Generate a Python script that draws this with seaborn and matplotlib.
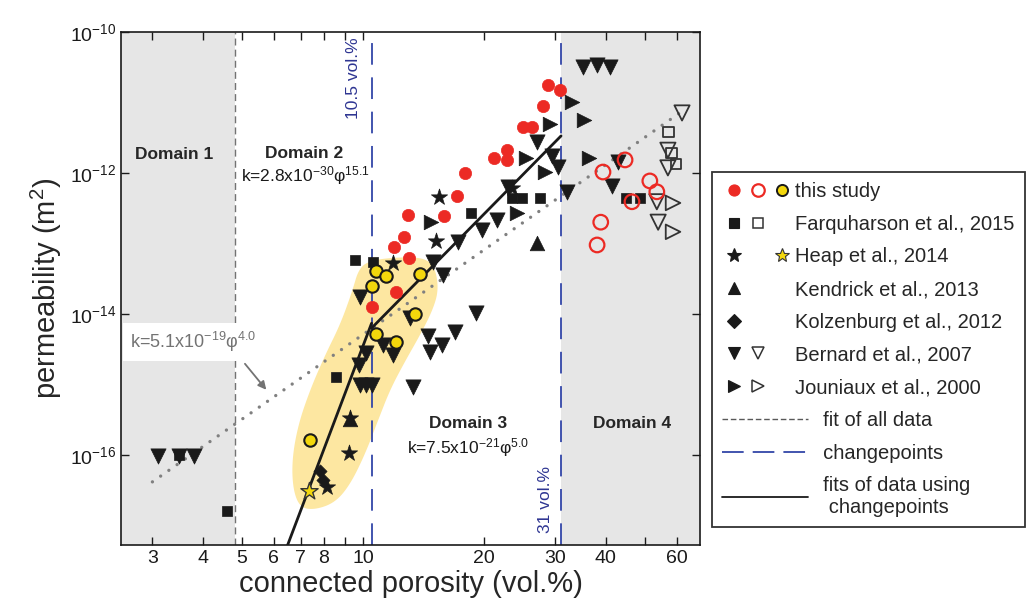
import numpy as np
import matplotlib
matplotlib.use("Agg")
import matplotlib.pyplot as plt
import seaborn as sns
from matplotlib.lines import Line2D
from matplotlib.ticker import FixedLocator, FixedFormatter, NullLocator
from matplotlib.legend_handler import HandlerTuple, HandlerLine2D

# ---------------- data (porosity in vol.%, permeability in m^2) ----------------
study_filled_phi = [28.8, 30.8, 28.0, 24.9, 26.3, 22.8, 21.1, 22.8, 17.9, 17.1, 12.9, 15.9, 12.6, 11.9, 13.0, 12.1, 10.5]
study_filled_k = [1.78e-11, 1.5e-11, 8.9e-12, 4.5e-12, 4.5e-12, 2.1e-12, 1.63e-12, 1.53e-12, 1.0e-12, 4.7e-13,
                  2.5e-13, 2.45e-13, 1.24e-13, 8.9e-14, 6.2e-14, 2.05e-14, 1.26e-14]
study_open_phi = [44.7, 39.4, 51.5, 53.6, 46.5, 38.9, 38.1]
study_open_k = [1.53e-12, 1.03e-12, 7.7e-13, 5.4e-13, 3.9e-13, 2.0e-13, 9.5e-14]
study_yellow_phi = [10.77, 11.4, 10.5, 13.85, 13.45, 10.77, 12.1, 7.39]
study_yellow_k = [4.1e-14, 3.47e-14, 2.5e-14, 3.7e-14, 1.0e-14, 5.2e-15, 4.0e-15, 1.63e-16]

farq_filled_phi = [9.55, 10.6, 8.57, 4.60, 3.50, 18.5, 23.4, 24.8, 27.5, 44.9, 48.7]
farq_filled_k = [5.8e-14, 5.5e-14, 1.28e-15, 1.6e-17, 1.0e-16, 2.7e-13, 4.4e-13, 4.4e-13, 4.4e-13, 4.4e-13, 4.4e-13]
farq_open_phi = [57.4, 58.4, 59.8]
farq_open_k = [3.8e-12, 1.92e-12, 1.34e-12]

heap_phi = [15.4, 15.2, 11.86, 9.23, 8.14, 23.4, 9.28]
heap_k = [4.6e-13, 1.08e-13, 5.3e-14, 1.07e-16, 3.5e-17, 6.1e-13, 3.35e-16]
heap_yellow_phi = [7.34]
heap_yellow_k = [3.1e-17]

kendrick_phi = [27.1, 9.28]
kendrick_k = [1.02e-13, 3.2e-16]

kolz_phi = [7.82, 7.96]
kolz_k = [5.8e-17, 4.4e-17]

bernard_filled_phi = [3.10, 3.50, 3.81, 9.83, 10.17, 9.77, 9.83, 10.17, 10.5, 11.2, 11.86, 13.1, 13.3, 14.5,
                      14.66, 15.7, 16.9, 19.1, 14.9, 15.8, 17.2, 19.7, 21.5, 22.9, 27.0, 29.4, 30.5, 32.1,
                      41.5, 42.9, 35.1, 38.1, 41.0]
bernard_filled_k = [9.7e-17, 9.7e-17, 9.7e-17, 1.74e-14, 2.8e-15, 1.89e-15, 9.8e-16, 9.8e-16, 9.8e-16, 3.6e-15,
                    2.6e-15, 8.8e-15, 9.2e-16, 4.9e-15, 2.9e-15, 3.6e-15, 5.6e-15, 1.03e-14, 5.5e-14, 3.6e-14,
                    1.05e-13, 1.55e-13, 2.15e-13, 6.3e-13, 2.75e-12, 1.74e-12, 1.22e-12, 5.4e-13, 6.5e-13,
                    1.43e-12, 3.2e-11, 3.4e-11, 3.2e-11]
bernard_open_phi = [61.9, 57.1, 57.1, 53.6, 54.0]
bernard_open_k = [7.1e-12, 2.1e-12, 1.18e-12, 3.9e-13, 2.0e-13]

jouniaux_filled_phi = [33.0, 35.3, 29.1, 25.4, 28.3, 36.4, 24.1, 14.75]
jouniaux_filled_k = [1.02e-11, 5.6e-12, 5.0e-12, 1.63e-12, 1.03e-12, 1.63e-12, 2.7e-13, 2.0e-13]
jouniaux_open_phi = [58.8, 58.8]
jouniaux_open_k = [3.75e-13, 1.46e-13]

# shaded (yellow) field outline
field_phi = [9.77, 10.5, 12.36, 14.25, 15.1, 15.4, 14.9, 13.85, 12.7, 11.67, 10.9, 10.1, 9.28, 8.52, 7.60,
             6.98, 6.70, 6.66, 6.90, 7.39, 8.05, 8.77, 9.39]
field_k = [4.5e-14, 5.8e-14, 6.4e-14, 6.2e-14, 4.5e-14, 2.2e-14, 1.14e-14, 5.0e-15, 2.1e-15, 8.4e-16, 3.1e-16,
           1.0e-16, 3.75e-17, 2.1e-17, 1.66e-17, 1.78e-17, 3.2e-17, 8.5e-17, 2.67e-16, 8.4e-16, 2.6e-15,
           7.0e-15, 2.05e-14]

# fits and changepoints
fit_all = (5.1e-19, 4.0)
fit_d2 = (2.8e-30, 15.1)
fit_d3 = (7.5e-21, 5.8)
domain1_edge = 4.8
changepoints = [10.5, 31.0]
fit_all_range = (3.0, 62.0)

x_ticks = [3, 4, 5, 6, 7, 8, 10, 20, 30, 40, 60]
x_minor = [9, 50]
y_ticks = [1e-16, 1e-14, 1e-12, 1e-10]
y_labels = [r"$10^{-16}$", r"$10^{-14}$", r"$10^{-12}$", r"$10^{-10}$"]

# ---------------- style ----------------
sns.set_theme(style="ticks")
plt.rcParams["font.family"] = ["Liberation Sans", "DejaVu Sans"]
plt.rcParams["mathtext.fontset"] = "custom"
plt.rcParams["mathtext.rm"] = "Liberation Sans"
plt.rcParams["mathtext.it"] = "Liberation Sans:italic"
plt.rcParams["mathtext.bf"] = "Liberation Sans:bold"

RED = "#ec2a24"
YEL = "#f3d70c"
FIELD = "#fde7a1"
GREY_BG = "#e6e6e6"
BLUE = "#3346a8"
BLUE_TXT = "#2e3592"
TXT_GREY = "0.45"

fig = plt.figure(figsize=(10.29, 6.15), dpi=100)
ax = fig.add_axes([121 / 1029, 1 - 545 / 615, (700 - 121) / 1029, (545 - 32) / 615])
ax.set_xscale("log")
ax.set_yscale("log")
xmin, xmax = 2.507, 68.6
ymin, ymax = 10 ** -17.28, 1e-10
ax.set_xlim(xmin, xmax)
ax.set_ylim(ymin, ymax)

# domain shading
ax.axvspan(xmin, domain1_edge, facecolor=GREY_BG, lw=0, zorder=0)
ax.axvspan(changepoints[1], xmax, facecolor=GREY_BG, lw=0, zorder=0)

# yellow field (smoothed outline, in log space)
def chaikin(px, py, n=3):
    pts = np.column_stack([px, py])
    for _ in range(n):
        q = np.roll(pts, -1, axis=0)
        new = np.empty((2 * len(pts), 2))
        new[0::2] = 0.75 * pts + 0.25 * q
        new[1::2] = 0.25 * pts + 0.75 * q
        pts = new
    return pts

sm = chaikin(np.log10(field_phi), np.log10(field_k))
ax.fill(10 ** sm[:, 0], 10 ** sm[:, 1], facecolor=FIELD, edgecolor="none", zorder=1)

# boundaries
ax.axvline(domain1_edge, color="0.45", lw=1.0, dashes=(5, 3), zorder=1.5)
for cp in changepoints:
    ax.axvline(cp, color=BLUE, lw=1.3, dashes=(12, 7), zorder=1.5)

# fits
pa = np.geomspace(*fit_all_range, 200)
dotted, = ax.plot(pa, fit_all[0] * pa ** fit_all[1], color="0.5", lw=2.4, zorder=2)
dotted.set_dashes((0.01, 3.0))
dotted.set_dash_capstyle("round")
phi_lo = (ymin / fit_d2[0]) ** (1 / fit_d2[1])
p2 = np.geomspace(phi_lo, changepoints[0], 100)
ax.plot(p2, fit_d2[0] * p2 ** fit_d2[1], color="k", lw=2.0, zorder=2.2)
p3 = np.geomspace(changepoints[0], changepoints[1], 100)
ax.plot(p3, fit_d3[0] * p3 ** fit_d3[1], color="k", lw=2.0, zorder=2.2)

# scatter
def sc(x, y, marker, s, fc, ec, lw=0.6, z=3):
    sns.scatterplot(x=x, y=y, marker=marker, s=s, color=ec if fc == "none" else fc,
                    facecolor=fc, edgecolor=ec, linewidth=lw, ax=ax, zorder=z, legend=False)

sc(bernard_filled_phi, bernard_filled_k, "v", 120, "k", "k", 0.5)
sc(bernard_open_phi, bernard_open_k, "v", 120, "none", "0.2", 1.3)
sc(jouniaux_filled_phi, jouniaux_filled_k, ">", 110, "k", "k", 0.5)
sc(jouniaux_open_phi, jouniaux_open_k, ">", 110, "none", "0.2", 1.3)
sc(farq_filled_phi, farq_filled_k, "s", 60, "k", "k", 0.5)
sc(farq_open_phi, farq_open_k, "s", 60, "none", "0.2", 1.3)
sc(kendrick_phi, kendrick_k, "^", 110, "k", "k", 0.5)
sc(kolz_phi, kolz_k, "D", 45, "k", "k", 0.5)
sc(heap_phi, heap_k, "*", 150, "k", "k", 0.5)
sc(heap_yellow_phi, heap_yellow_k, "*", 170, YEL, "0.2", 1.0)
sc(study_filled_phi, study_filled_k, "o", 78, RED, RED, 0.5, 4)
sc(study_open_phi, study_open_k, "o", 110, "none", RED, 1.6, 4)
sc(study_yellow_phi, study_yellow_k, "o", 80, YEL, "k", 1.5, 4)

# annotations
ax.text(3.40, 1.8e-12, "Domain 1", ha="center", va="center", fontsize=12.5, fontweight="bold", color="0.15")
ax.text(7.14, 1.9e-12, "Domain 2", ha="center", va="center", fontsize=12.5, fontweight="bold", color="0.15")
ax.text(7.18, 9.3e-13, r"k=2.8x10$^{-30}$φ$^{15.1}$", ha="center", va="center", fontsize=12.5, color="0.1")
ax.text(18.2, 2.75e-16, "Domain 3", ha="center", va="center", fontsize=12.5, fontweight="bold", color="0.15")
ax.text(18.2, 1.26e-16, r"k=7.5x10$^{-21}$φ$^{5.0}$", ha="center", va="center", fontsize=12.5, color="0.1")
ax.text(46.5, 2.75e-16, "Domain 4", ha="center", va="center", fontsize=12.5, fontweight="bold", color="0.15")
ax.text(9.45, 2.2e-11, "10.5 vol.%", rotation=90, ha="center", va="center", fontsize=12.5,
        color=BLUE_TXT)
ax.text(28.4, 2.3e-17, "31 vol.%", rotation=90, ha="center", va="center", fontsize=12.5, color=BLUE_TXT)
ax.text(3.79, 4.0e-15, r"k=5.1x10$^{-19}$φ$^{4.0}$", ha="center", va="center", fontsize=13, color=TXT_GREY,
        bbox=dict(facecolor="white", edgecolor="none", pad=5), zorder=2.5)
ax.annotate("", xy=(5.81, 7.8e-16), xytext=(5.04, 2.1e-15),
            arrowprops=dict(arrowstyle="-|>", color="0.45", lw=1.3, mutation_scale=12), zorder=2.5)

# axes / ticks
ax.xaxis.set_major_locator(FixedLocator(x_ticks))
ax.xaxis.set_major_formatter(FixedFormatter([str(t) for t in x_ticks]))
ax.xaxis.set_minor_locator(FixedLocator(x_minor))
ax.yaxis.set_major_locator(FixedLocator(y_ticks))
ax.yaxis.set_major_formatter(FixedFormatter(y_labels))
ax.yaxis.set_minor_locator(NullLocator())
ax.tick_params(axis="both", which="both", direction="in", top=True, right=True, length=6, width=1.0,
               color="k", labelsize=14, labelcolor="0.1")
for sp in ax.spines.values():
    sp.set_color("k")
    sp.set_linewidth(1.2)
ax.set_xlabel("connected porosity (vol.%)", fontsize=21, color="0.15", labelpad=2)
ax.set_ylabel(r"permeability (m$^2$)", fontsize=21, color="0.15", labelpad=4)

# legend
blank = Line2D([], [], ls="none")
def mk(marker, fc, ec, ms=8, mew=0.8):
    return Line2D([], [], ls="none", marker=marker, markerfacecolor=fc, markeredgecolor=ec,
                  markersize=ms, markeredgewidth=mew)

class LongLine(HandlerLine2D):
    def create_artists(self, legend, orig_handle, xdescent, ydescent, width, height, fontsize, trans):
        return super().create_artists(legend, orig_handle, xdescent, ydescent, width + 10,
                                      height, fontsize, trans)

handles = [
    (mk("o", RED, RED, 8), mk("o", "none", RED, 9, 1.6), mk("o", YEL, "k", 8, 1.4)),
    (mk("s", "k", "k", 7), mk("s", "none", "0.2", 7, 1.1), blank),
    (mk("*", "k", "k", 10), blank, mk("*", YEL, "0.2", 10, 0.8)),
    (mk("^", "k", "k", 9), blank, blank),
    (mk("D", "k", "k", 7), blank, blank),
    (mk("v", "k", "k", 9), mk("v", "none", "0.2", 9, 1.1), blank),
    (mk(">", "k", "k", 9), mk(">", "none", "0.2", 9, 1.1), blank),
    Line2D([], [], color="0.35", lw=1.0, dashes=(4, 2)),
    Line2D([], [], color=BLUE, lw=1.3, dashes=(12, 5)),
    Line2D([], [], color="k", lw=1.3),
]
labels = ["this study", "Farquharson et al., 2015", "Heap et al., 2014", "Kendrick et al., 2013",
          "Kolzenburg et al., 2012", "Bernard et al., 2007", "Jouniaux et al., 2000",
          "     fit of all data", "     changepoints", "     fits of data using\n      changepoints"]
hm = {tuple: HandlerTuple(ndivide=3, pad=0)}
for h in handles[7:]:
    hm[h] = LongLine()
leg = fig.legend(handles, labels, handler_map=hm,
                 bbox_to_anchor=(712 / 1029, 1 - 540 / 615, (1025 - 712) / 1029, (540 - 172) / 615),
                 loc="upper left", mode="expand", borderaxespad=0, fontsize=14.5, handlelength=3.6,
                 handletextpad=0.0, labelspacing=0.68, borderpad=0.5, fancybox=False, framealpha=1,
                 edgecolor="0.2")
leg.get_frame().set_linewidth(1.3)
for t in leg.get_texts():
    t.set_color("0.15")

fig.savefig("out.png", dpi=100)
